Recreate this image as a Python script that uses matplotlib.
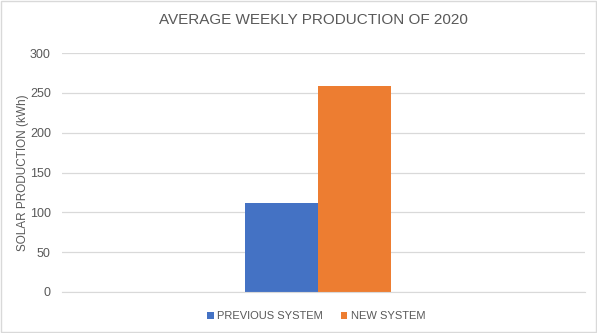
import matplotlib.pyplot as plt
from matplotlib.patches import Rectangle

plt.rcParams["font.family"] = ["Liberation Sans", "DejaVu Sans"]

categories = [""]
series_names = ["PREVIOUS SYSTEM", "NEW SYSTEM"]
previous_system = [112]
new_system = [259]
y_ticks = [0, 50, 100, 150, 200, 250, 300]

blue = "#4472C4"
orange = "#ED7D31"
text_gray = "#595959"

fig = plt.figure(figsize=(5.97, 3.33), dpi=100)
ax = fig.add_axes([62 / 597, 41 / 333, 523 / 597, 239 / 333])

width = 0.28
x = [0]
ax.bar([v - width / 2 for v in x], previous_system, width, color=blue, label=series_names[0], zorder=2)
ax.bar([v + width / 2 for v in x], new_system, width, color=orange, label=series_names[1], zorder=2)

ax.set_xlim(-0.98, 1.02)
ax.set_ylim(0, 300)
ax.set_yticks(y_ticks)
ax.set_xticks([])
ax.grid(axis="y", color="#D9D9D9", linewidth=0.9, zorder=0)
for s in ["top", "right", "left"]:
    ax.spines[s].set_visible(False)
ax.spines["bottom"].set_color("#D9D9D9")
ax.tick_params(axis="y", length=0, labelsize=9, labelcolor=text_gray, pad=8)

ax.set_ylabel("SOLAR PRODUCTION (kWh)", fontsize=8.5, color=text_gray)
ax.yaxis.set_label_coords(-0.064, 0.5)

fig.text(313 / 597, 1 - 20 / 333, "AVERAGE WEEKLY PRODUCTION OF 2020",
         ha="center", va="center", fontsize=11, color=text_gray)

fig.legend(loc="center", bbox_to_anchor=(316 / 597, 1 - 316 / 333), ncol=2,
           frameon=False, fontsize=8, labelcolor=text_gray,
           handlelength=0.6, handleheight=0.6, handletextpad=0.3, columnspacing=1.6)

fig.patches.append(Rectangle((0.002, 0.002), 0.996, 0.996, transform=fig.transFigure,
                             fill=False, edgecolor="#D9D9D9", linewidth=1))

fig.savefig("out.png", dpi=100)
